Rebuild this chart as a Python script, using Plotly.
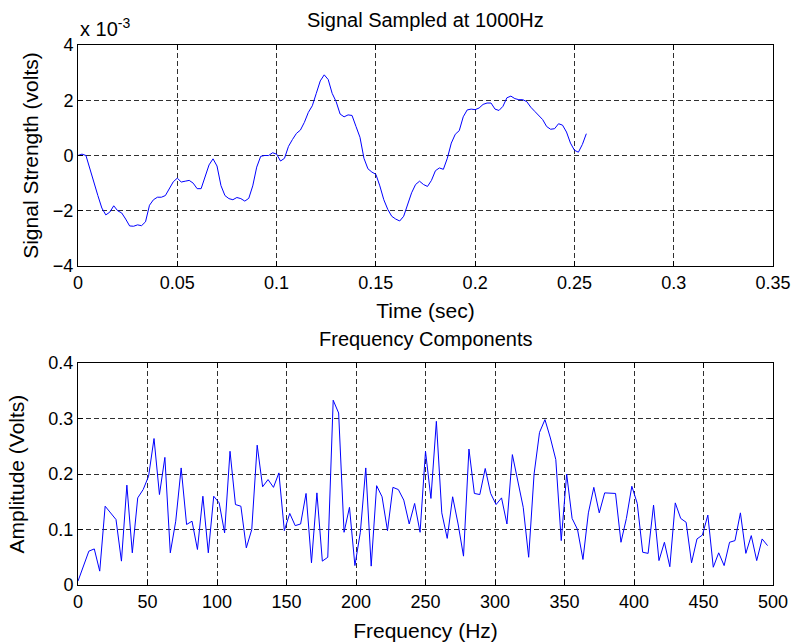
import numpy as np
import plotly.graph_objects as go

# --- Time-domain signal, sampled every 2 ms (values in units of 1e-3 V) ---
time_step = 0.002
signal_mv = [
    0.0, 0.05, 0.0, -0.5, -1.0, -1.45, -1.9, -2.15, -2.05, -1.82,
    -2.0, -2.08, -2.3, -2.55, -2.56, -2.51, -2.54, -2.4, -1.8, -1.6,
    -1.51, -1.51, -1.45, -1.2, -0.95, -0.82, -0.96, -0.93, -0.9, -1.0,
    -1.2, -1.2, -0.79, -0.34, -0.12, -0.38, -1.09, -1.45, -1.56, -1.6,
    -1.52, -1.56, -1.65, -1.55, -1.1, -0.42, -0.03, 0.0, 0.0, 0.1,
    0.05, -0.2, -0.1, 0.33, 0.58, 0.8, 0.92, 1.2, 1.56, 1.8,
    2.25, 2.7, 2.92, 2.75, 2.25, 1.95, 1.5, 1.4, 1.47, 1.45,
    1.05, 0.66, -0.1, -0.48, -0.6, -0.68, -1.1, -1.6, -1.95, -2.2,
    -2.3, -2.37, -2.2, -1.75, -1.35, -1.05, -0.93, -1.05, -1.12, -0.9,
    -0.55, -0.45, -0.5, -0.1, 0.45, 0.77, 0.9, 1.4, 1.65, 1.68,
    1.66, 1.72, 1.85, 1.9, 1.9, 1.68, 1.63, 1.78, 2.09, 2.15,
    2.06, 2.02, 2.02, 1.95, 1.75, 1.6, 1.45, 1.3, 1.05, 0.95,
    0.97, 1.15, 1.1, 0.85, 0.45, 0.19, 0.12, 0.4, 0.79,
]
time_s = np.arange(len(signal_mv)) * time_step

# --- Single-sided amplitude spectrum, bin spacing 1000/256 Hz ---
freq_step = 1000.0 / 256.0
amplitude = [
    0.007, 0.035, 0.061, 0.065, 0.025, 0.142, 0.13, 0.118, 0.043, 0.18,
    0.058, 0.157, 0.172, 0.196, 0.264, 0.163, 0.23, 0.058, 0.115, 0.211,
    0.109, 0.115, 0.064, 0.16, 0.058, 0.16, 0.148, 0.094, 0.241, 0.145,
    0.142, 0.067, 0.1, 0.252, 0.177, 0.19, 0.176, 0.202, 0.098, 0.129,
    0.107, 0.11, 0.165, 0.04, 0.166, 0.043, 0.05, 0.333, 0.31, 0.095,
    0.14, 0.035, 0.095, 0.211, 0.034, 0.179, 0.159, 0.098, 0.176, 0.172,
    0.153, 0.11, 0.147, 0.095, 0.241, 0.156, 0.295, 0.13, 0.084, 0.159,
    0.11, 0.052, 0.245, 0.165, 0.163, 0.21, 0.165, 0.145, 0.157, 0.11,
    0.235, 0.19, 0.14, 0.05, 0.2, 0.275, 0.298, 0.265, 0.226, 0.08,
    0.2, 0.12, 0.1, 0.046, 0.13, 0.176, 0.13, 0.166, 0.166, 0.165,
    0.077, 0.12, 0.178, 0.147, 0.059, 0.057, 0.144, 0.044, 0.077, 0.033,
    0.148, 0.12, 0.113, 0.04, 0.083, 0.09, 0.126, 0.032, 0.058, 0.035,
    0.077, 0.08, 0.13, 0.057, 0.089, 0.044, 0.083, 0.071,
]
freq_hz = np.arange(len(amplitude)) * freq_step

FONT = "Liberation Sans, Arial, Helvetica, sans-serif"
FS = 18        # tick labels
FS_TITLE = 20  # plot titles and the exponent label
FS_AXIS = 21   # axis titles
LINE_BLUE = "#0000ff"

fig = go.Figure()
fig.add_trace(go.Scatter(x=time_s, y=signal_mv, mode="lines",
                         line=dict(color=LINE_BLUE, width=1),
                         xaxis="x", yaxis="y", showlegend=False))
fig.add_trace(go.Scatter(x=freq_hz, y=amplitude, mode="lines",
                         line=dict(color=LINE_BLUE, width=1),
                         xaxis="x2", yaxis="y2", showlegend=False))

axis_style = dict(
    showline=True, linecolor="black", linewidth=1, mirror="allticks",
    ticks="inside", ticklen=5, tickcolor="black",
    showgrid=True, gridcolor="#303030", gridwidth=1, griddash="5px,3px",
    zeroline=False, automargin=False,
    tickfont=dict(family=FONT, size=FS, color="black"),
)
axis_title_font = dict(family=FONT, size=FS_AXIS, color="black")

fig.update_layout(
    width=795, height=644,
    margin=dict(l=78, r=22, t=45, b=59),
    paper_bgcolor="white", plot_bgcolor="white",
    font=dict(family=FONT, size=FS, color="black"),
    xaxis=dict(axis_style, domain=[0, 1], anchor="y", range=[0, 0.35],
               tickvals=[0, 0.05, 0.1, 0.15, 0.2, 0.25, 0.3, 0.35],
               ticktext=["0", "0.05", "0.1", "0.15", "0.2", "0.25", "0.3", "0.35"],
               title=dict(text="Time (sec)", standoff=11, font=axis_title_font)),
    yaxis=dict(axis_style, domain=[0.5907, 1], anchor="x", range=[-4, 4],
               tickvals=[-4, -2, 0, 2, 4],
               title=dict(text="Signal Strength (volts)", standoff=8,
                          font=axis_title_font)),
    xaxis2=dict(axis_style, domain=[0, 1], anchor="y2", range=[0, 500],
                tickvals=list(range(0, 501, 50)),
                title=dict(text="Frequency (Hz)", standoff=12, font=axis_title_font)),
    yaxis2=dict(axis_style, domain=[0, 0.411], anchor="x2", range=[0, 0.4],
                tickvals=[0, 0.1, 0.2, 0.3, 0.4],
                ticktext=["0", "0.1", "0.2", "0.3", "0.4"],
                title=dict(text="Amplitude (Volts)", standoff=18,
                           font=axis_title_font)),
    annotations=[
        dict(text="Signal Sampled at 1000Hz", xref="paper", yref="paper",
             x=0.5, y=1, yshift=12, xanchor="center", yanchor="bottom",
             showarrow=False, font=dict(family=FONT, size=FS_TITLE)),
        dict(text="Frequency Components", xref="paper", yref="paper",
             x=0.5, y=0.411, yshift=11, xanchor="center", yanchor="bottom",
             showarrow=False, font=dict(family=FONT, size=FS_TITLE)),
        dict(text="x 10<sup>-3</sup>", xref="paper", yref="paper",
             x=0, y=1, yshift=3, xanchor="left", yanchor="bottom",
             showarrow=False, font=dict(family=FONT, size=FS_TITLE)),
    ],
)

fig.write_html("out.html")
